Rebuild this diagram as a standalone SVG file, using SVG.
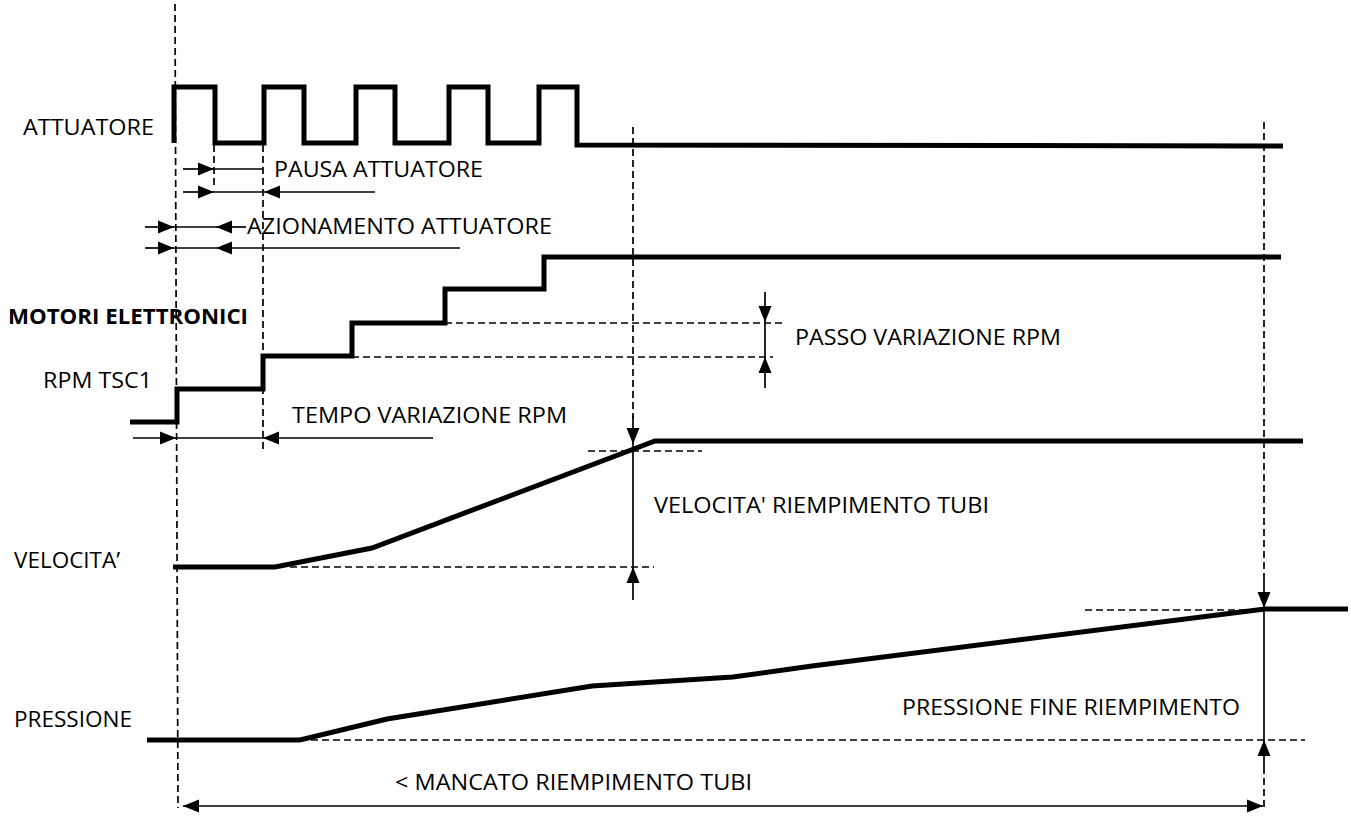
<svg xmlns="http://www.w3.org/2000/svg" width="1351" height="816" viewBox="0 0 1351 816">
<style>
.sig{fill:none;stroke:#000;stroke-width:5;stroke-linejoin:miter;stroke-linecap:butt}
.dim{fill:none;stroke:#000;stroke-width:1.7}
.dash{fill:none;stroke:#000;stroke-width:1.7;stroke-dasharray:7 4}
.arr{marker-end:url(#ah)}
.lbl{font-family:"Open Sans","Noto Sans","Liberation Sans",sans-serif;font-size:22px;fill:#000}
.bold{font-weight:bold;font-size:21px}
</style>
<defs>
<marker id="ah" markerUnits="userSpaceOnUse" markerWidth="16" markerHeight="14" refX="16" refY="7" orient="auto-start-reverse">
<path d="M0,0.5 L16,7 L0,13.5 z" fill="#000"/>
</marker>
</defs>
<rect width="1351" height="816" fill="#fff"/>

<g id="guides">
<line class="dash" x1="175" y1="4" x2="178" y2="808"/>
<line class="dash" x1="214" y1="145" x2="214" y2="186"/>
<line class="dash" x1="263" y1="145" x2="263" y2="453"/>
<line class="dash" x1="633" y1="127" x2="633" y2="418"/>
<line class="dash" x1="1264" y1="122" x2="1264" y2="573"/>
<line class="dash" x1="1264" y1="767" x2="1264" y2="808"/>
<line class="dash" x1="445" y1="323" x2="785" y2="323"/>
<line class="dash" x1="352" y1="357" x2="773" y2="357"/>
<line class="dash" x1="588" y1="451" x2="702" y2="451"/>
<line class="dash" x1="290" y1="567" x2="654" y2="567"/>
<line class="dash" x1="1085" y1="610" x2="1265" y2="610"/>
<line class="dash" x1="300" y1="740" x2="1305" y2="740"/>
</g>

<g id="signal-attuatore">
<polyline class="sig" points="174,143 174,87 215,87 215,143 264,143 264,87 304,87 304,143 356,143 356,87 395,87 395,143 449,143 449,87 488,87 488,143 539,143 539,87 577,87 577,145 1283,146"/>
</g>
<g id="signal-rpm">
<polyline class="sig" points="130,422 177,422 177,389 263,389 263,356 352,356 352,323 445,323 445,289 544,289 544,257 1281,257"/>
</g>
<g id="signal-velocita">
<polyline class="sig" points="173,567 275,567 372,548 655,441 1303,441"/>
</g>
<g id="signal-pressione">
<polyline class="sig" points="147,740 300,740 387,719 592,686 733,677 812,666 1265,609 1348,609"/>
</g>

<g id="connectors">
<line class="dim arr" x1="183" y1="169" x2="214" y2="169"/>
<line class="dim" x1="214" y1="169" x2="263" y2="169"/>
<line class="dim arr" x1="183" y1="192" x2="214" y2="192"/>
<line class="dim" x1="214" y1="192" x2="263" y2="192"/>
<line class="dim arr" x1="375" y1="192" x2="264" y2="192"/>
<line class="dim arr" x1="145" y1="227" x2="174" y2="227"/>
<line class="dim" x1="174" y1="227" x2="216" y2="227"/>
<line class="dim arr" x1="246" y1="227" x2="216" y2="227"/>
<line class="dim arr" x1="145" y1="248" x2="174" y2="248"/>
<line class="dim" x1="174" y1="248" x2="216" y2="248"/>
<line class="dim arr" x1="460" y1="248" x2="216" y2="248"/>
<line class="dim arr" x1="133" y1="438" x2="176" y2="438"/>
<line class="dim" x1="176" y1="438" x2="263" y2="438"/>
<line class="dim arr" x1="433" y1="438" x2="263" y2="438"/>
<line class="dim arr" x1="765" y1="292" x2="765" y2="322"/>
<line class="dim" x1="765" y1="322" x2="765" y2="357"/>
<line class="dim arr" x1="765" y1="388" x2="765" y2="357"/>
<line class="dim arr" x1="633" y1="416" x2="633" y2="444"/>
<line class="dim" x1="633" y1="444" x2="633" y2="567"/>
<line class="dim arr" x1="633" y1="600" x2="633" y2="567"/>
<line class="dim arr" x1="1264" y1="573" x2="1264" y2="608"/>
<line class="dim" x1="1264" y1="608" x2="1264" y2="740"/>
<line class="dim arr" x1="1264" y1="767" x2="1264" y2="740"/>
<line class="dim" x1="183" y1="806" x2="1263" y2="806" marker-start="url(#ah)" marker-end="url(#ah)"/>
</g>

<g id="labels">
<text class="lbl" x="23" y="135" textLength="131" lengthAdjust="spacingAndGlyphs">ATTUATORE</text>
<text class="lbl" x="274" y="177" textLength="209" lengthAdjust="spacingAndGlyphs">PAUSA ATTUATORE</text>
<text class="lbl" x="247" y="234" textLength="305" lengthAdjust="spacingAndGlyphs">AZIONAMENTO ATTUATORE</text>
<text class="lbl bold" x="8" y="324" textLength="240" lengthAdjust="spacingAndGlyphs">MOTORI ELETTRONICI</text>
<text class="lbl" x="795" y="345" textLength="266" lengthAdjust="spacingAndGlyphs">PASSO VARIAZIONE RPM</text>
<text class="lbl" x="43" y="388" textLength="109" lengthAdjust="spacingAndGlyphs">RPM TSC1</text>
<text class="lbl" x="292" y="423" textLength="275" lengthAdjust="spacingAndGlyphs">TEMPO VARIAZIONE RPM</text>
<text class="lbl" x="654" y="513" textLength="335" lengthAdjust="spacingAndGlyphs">VELOCITA' RIEMPIMENTO TUBI</text>
<text class="lbl" x="14" y="568" textLength="106" lengthAdjust="spacingAndGlyphs">VELOCITA’</text>
<text class="lbl" x="902" y="715" textLength="338" lengthAdjust="spacingAndGlyphs">PRESSIONE FINE RIEMPIMENTO</text>
<text class="lbl" x="14" y="727" textLength="118" lengthAdjust="spacingAndGlyphs">PRESSIONE</text>
<text class="lbl" x="395" y="790" textLength="357" lengthAdjust="spacingAndGlyphs">&lt; MANCATO RIEMPIMENTO TUBI</text>
</g>
</svg>
